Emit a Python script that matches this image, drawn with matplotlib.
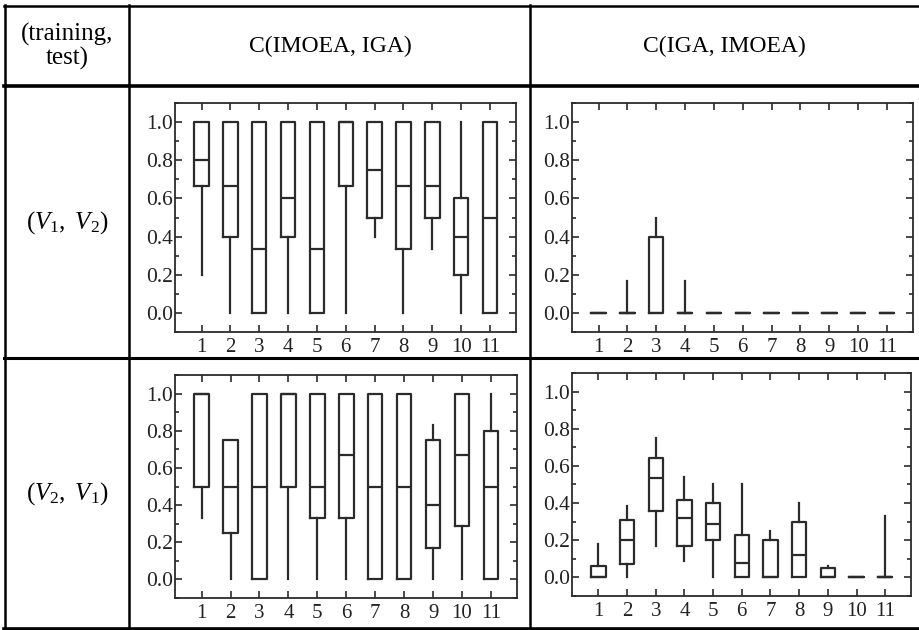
import numpy as np
import matplotlib
matplotlib.use("Agg")
import matplotlib.pyplot as plt
from matplotlib.lines import Line2D
from matplotlib.ticker import MultipleLocator

plt.rcParams['font.family'] = ['Liberation Serif', 'DejaVu Serif']
plt.rcParams['mathtext.fontset'] = 'custom'
plt.rcParams['mathtext.rm'] = 'Liberation Serif'
plt.rcParams['mathtext.it'] = 'Liberation Serif:italic'

  ## data: box statistics per run (whislo, q1, med, q3, whishi)
runs = list(range(1, 12))
col_titles = ["C(IMOEA, IGA)", "C(IGA, IMOEA)"]
row_titles = [r"$(V_1,\ V_2)$", r"$(V_2,\ V_1)$"]
corner_title = "(training,\ntest)"

# row 1, C(IMOEA, IGA)
a_lo  = [0.20, 0.00, 0.00, 0.00, 0.00, 0.00, 0.40, 0.00, 0.333, 0.00, 0.00]
a_q1  = [0.667, 0.40, 0.00, 0.40, 0.00, 0.667, 0.50, 0.333, 0.50, 0.20, 0.00]
a_med = [0.80, 0.667, 0.333, 0.60, 0.333, 1.00, 0.75, 0.667, 0.667, 0.40, 0.50]
a_q3  = [1.00, 1.00, 1.00, 1.00, 1.00, 1.00, 1.00, 1.00, 1.00, 0.60, 1.00]
a_hi  = [1.00, 1.00, 1.00, 1.00, 1.00, 1.00, 1.00, 1.00, 1.00, 1.00, 1.00]

# row 1, C(IGA, IMOEA)
b_lo  = [0.0] * 11
b_q1  = [0.0] * 11
b_med = [0.0] * 11
b_q3  = [0.0, 0.0, 0.40, 0.0, 0.0, 0.0, 0.0, 0.0, 0.0, 0.0, 0.0]
b_hi  = [0.0, 0.167, 0.50, 0.167, 0.0, 0.0, 0.0, 0.0, 0.0, 0.0, 0.0]

# row 2, C(IMOEA, IGA)
c_lo  = [0.333, 0.00, 0.00, 0.00, 0.00, 0.00, 0.00, 0.00, 0.00, 0.00, 0.00]
c_q1  = [0.50, 0.25, 0.00, 0.50, 0.333, 0.333, 0.00, 0.00, 0.167, 0.286, 0.00]
c_med = [1.00, 0.50, 0.50, 1.00, 0.50, 0.667, 0.50, 0.50, 0.40, 0.667, 0.50]
c_q3  = [1.00, 0.75, 1.00, 1.00, 1.00, 1.00, 1.00, 1.00, 0.75, 1.00, 0.80]
c_hi  = [1.00, 0.75, 1.00, 1.00, 1.00, 1.00, 1.00, 1.00, 0.833, 1.00, 1.00]

# row 2, C(IGA, IMOEA)
d_lo  = [0.00, 0.00, 0.167, 0.09, 0.00, 0.00, 0.00, 0.00, 0.00, 0.00, 0.00]
d_q1  = [0.00, 0.07, 0.357, 0.167, 0.20, 0.00, 0.00, 0.00, 0.00, 0.00, 0.00]
d_med = [0.00, 0.20, 0.533, 0.32, 0.286, 0.077, 0.00, 0.118, 0.00, 0.00, 0.00]
d_q3  = [0.063, 0.31, 0.643, 0.417, 0.40, 0.23, 0.20, 0.296, 0.05, 0.00, 0.00]
d_hi  = [0.18, 0.385, 0.75, 0.538, 0.50, 0.50, 0.25, 0.40, 0.063, 0.00, 0.333]

panels = [
    (a_lo, a_q1, a_med, a_q3, a_hi),
    (b_lo, b_q1, b_med, b_q3, b_hi),
    (c_lo, c_q1, c_med, c_q3, c_hi),
    (d_lo, d_q1, d_med, d_q3, d_hi),
]

W, H = 919, 630
fig = plt.figure(figsize=(W / 100, H / 100), dpi=100)
fig.patch.set_facecolor('white')

  ## axes rectangles in pixels (left, top, right, bottom)
rects = [(175, 103, 516, 332), (572, 103, 913, 332),
         (175, 375, 517, 598), (572, 373, 911, 596)]

grey = '#2b2b2b'
for (lo, q1, med, q3, hi), (l, t, r, b) in zip(panels, rects):
    ax = fig.add_axes([l / W, 1 - b / H, (r - l) / W, (b - t) / H])
    stats = [dict(whislo=lo[i], q1=q1[i], med=med[i], q3=q3[i], whishi=hi[i], fliers=[])
             for i in range(len(runs))]
    ax.bxp(stats, positions=runs, widths=0.5, showcaps=False, showfliers=False,
           boxprops=dict(color=grey, linewidth=1.6),
           whiskerprops=dict(color=grey, linewidth=1.6),
           medianprops=dict(color=grey, linewidth=1.6))
    ax.set_xlim(0.08, 11.9)
    ax.set_ylim(-0.1, 1.1)
    ax.set_xticks(runs)
    ax.set_xticklabels([str(k) for k in runs])
    ax.yaxis.set_major_locator(MultipleLocator(0.2))
    ax.yaxis.set_minor_locator(MultipleLocator(0.1))
    ax.yaxis.set_major_formatter(plt.FormatStrFormatter('%.1f'))
    for s in ax.spines.values():
        s.set_color(grey)
        s.set_linewidth(1.3)
    ax.tick_params(which='both', direction='in', top=True, right=True, color=grey, width=1.2)
    ax.tick_params(which='major', length=5)
    ax.tick_params(which='minor', length=3)
    ax.tick_params(axis='x', which='minor', top=False, bottom=False)
    ax.tick_params(axis='y', labelsize=15.5, pad=1.5, labelcolor='#222222')
    ax.tick_params(axis='x', labelsize=15, pad=4, labelcolor='#222222')

  ## table frame
def hline(y, x0, x1, lw):
    fig.add_artist(Line2D([x0 / W, x1 / W], [1 - y / H, 1 - y / H], color='black', linewidth=lw))

def vline(x, y0, y1, lw):
    fig.add_artist(Line2D([x / W, x / W], [1 - y0 / H, 1 - y1 / H], color='black', linewidth=lw))

hline(6, 4, W, 1.8)
hline(86, 4, W, 2.6)
hline(358, 4, W, 2.2)
hline(629, 4, W, 2.6)
vline(5, 5, 630, 1.8)
vline(129, 5, 630, 1.8)
vline(530, 5, 630, 1.8)

fig.text(67 / W, 1 - 46 / H, corner_title, ha='center', va='center', fontsize=18, linespacing=1.05)
fig.text(330 / W, 1 - 46 / H, col_titles[0], ha='center', va='center', fontsize=17)
fig.text(724 / W, 1 - 46 / H, col_titles[1], ha='center', va='center', fontsize=17)
fig.text(67 / W, 1 - 223 / H, row_titles[0], ha='center', va='center', fontsize=18)
fig.text(67 / W, 1 - 494 / H, row_titles[1], ha='center', va='center', fontsize=18)

fig.savefig('out.png', dpi=100)
